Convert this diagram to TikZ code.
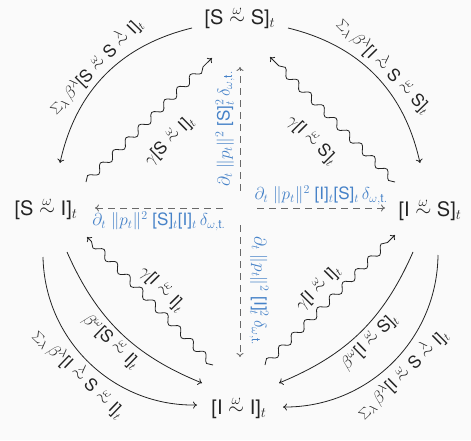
\documentclass[tikz,border=0pt]{standalone}
\usepackage{fontspec}
\setmainfont{TeX Gyre Heros}
\usetikzlibrary{decorations.pathmorphing,arrows.meta}
\newcommand{\wsim}[1]{\mathrel{\stackrel{#1}{\sim}}}
\definecolor{lblue}{RGB}{70,130,200}
\definecolor{dgray}{RGB}{105,105,105}
\definecolor{ink}{RGB}{35,35,35}
\definecolor{bgc}{RGB}{250,250,250}
\begin{document}
\begin{tikzpicture}[x=1pt,y=1pt,
  state/.style={font=\fontsize{20}{23}\selectfont, inner sep=0pt, text=ink},
  lbl/.style={font=\fontsize{17}{19}\selectfont, text=ink, inner sep=2pt},
  blbl/.style={font=\fontsize{17}{19}\selectfont, text=lblue, inner sep=3pt},
  arcline/.style={draw=ink, line width=0.8pt, -{To[length=4pt,width=7pt]}},
  waveline/.style={draw=ink, line width=0.8pt, -{To[length=4pt,width=7pt]}, decorate,
    decoration={snake, amplitude=3.5pt, segment length=18pt, post length=5pt}},
  dashline/.style={draw=dgray, line width=0.9pt, dash pattern=on 7pt off 5pt, -{To[length=4pt,width=7pt]}},
]
\fill[bgc] (0,0) rectangle (471,440);
\useasboundingbox (0,0) rectangle (471,440);

\node[state] (T) at (240,422) {[S $\wsim{\omega}$ S]$_t$};
\node[state] (L) at (46,231) {[S $\wsim{\omega}$ I]$_t$};
\node[state] (R) at (430,230) {[I $\wsim{\omega}$ S]$_t$};
\node[state] (B) at (239,32) {[I $\wsim{\omega}$ I]$_t$};
\node[circle, minimum size=34pt, inner sep=0pt] (C) at (240,232) {};

% top-left
\draw[arcline] ([xshift=-48pt,yshift=-10pt]T.center) to[bend right=32]
  node[lbl, sloped, above=1pt] {$\sum_\lambda \beta^\lambda$[S $\wsim{\omega}$ S $\wsim{\lambda}$ I]$_t$}
  ([xshift=14pt,yshift=46pt]L.center);
\draw[waveline] ([xshift=40pt,yshift=27pt]L.center) --
  node[lbl, sloped, below=17pt] {$\gamma$[S $\wsim{\omega}$ I]$_t$}
  ([xshift=-28pt,yshift=-40pt]T.center);

% top-right
\draw[arcline] ([xshift=48pt,yshift=-10pt]T.center) to[bend left=32]
  node[lbl, sloped, above=1pt] {$\sum_\lambda \beta^\lambda$[I $\wsim{\lambda}$ S $\wsim{\omega}$ S]$_t$}
  ([xshift=-10pt,yshift=47pt]R.center);
\draw[waveline] ([xshift=-35pt,yshift=28pt]R.center) --
  node[lbl, sloped, below=17pt] {$\gamma$[I $\wsim{\omega}$ S]$_t$}
  ([xshift=30pt,yshift=-39pt]T.center);

% bottom-left
\draw[arcline] ([xshift=21pt,yshift=-43pt]L.center) to[bend right=22]
  node[lbl, sloped, below=1pt] {$\beta^\omega$[S $\wsim{\omega}$ I]$_t$}
  ([xshift=-37pt,yshift=25pt]B.center);
\draw[arcline] ([xshift=-3pt,yshift=-48pt]L.center) to[bend right=45]
  node[lbl, sloped, below=1pt] {$\sum_\lambda \beta^\lambda$[I $\wsim{\lambda}$ S $\wsim{\omega}$ I]$_t$}
  ([xshift=-42pt,yshift=3pt]B.center);
\draw[waveline] ([xshift=-26pt,yshift=43pt]B.center) --
  node[lbl, sloped, above=6pt] {$\gamma$[I $\wsim{\omega}$ I]$_t$}
  ([xshift=41pt,yshift=-28pt]L.center);

% bottom-right
\draw[arcline] ([xshift=-17pt,yshift=-42pt]R.center) to[bend left=22]
  node[lbl, sloped, below=1pt] {$\beta^\omega$[I $\wsim{\omega}$ S]$_t$}
  ([xshift=40pt,yshift=25pt]B.center);
\draw[arcline] ([xshift=8pt,yshift=-45pt]R.center) to[bend left=45]
  node[lbl, sloped, below=1pt] {$\sum_\lambda \beta^\lambda$[I $\wsim{\omega}$ S $\wsim{\lambda}$ I]$_t$}
  ([xshift=44pt,yshift=1pt]B.center);
\draw[waveline] ([xshift=26pt,yshift=43pt]B.center) --
  node[lbl, sloped, above=6pt] {$\gamma$[I $\wsim{\omega}$ I]$_t$}
  ([xshift=-35pt,yshift=-25pt]R.center);

% dashed centre
\draw[dashline] (C.west) --
  node[blbl, sloped, below] {$\partial_t\ \|p_t\|^2$ [S]$_t$[I]$_t\,\delta_{\omega,\mathrm{t.}}$}
  ([xshift=49pt,yshift=1pt]L.center);
\draw[dashline] (C.east) --
  node[blbl, sloped, above] {$\partial_t\ \|p_t\|^2$ [I]$_t$[S]$_t\,\delta_{\omega,\mathrm{t.}}$}
  ([xshift=-45pt,yshift=2pt]R.center);
\draw[dashline] (C.north) --
  node[blbl, sloped, above=2pt] {$\partial_t\ \|p_t\|^2$ [S]$_t^2\,\delta_{\omega,\mathrm{t.}}$}
  ([xshift=0pt,yshift=-49pt]T.center);
\draw[dashline] (C.south) --
  node[blbl, sloped, above=6pt] {$\partial_t\ \|p_t\|^2$ [I]$_t^2\,\delta_{\omega,\mathrm{t.}}$}
  ([xshift=1pt,yshift=51pt]B.center);
\end{tikzpicture}
\end{document}
